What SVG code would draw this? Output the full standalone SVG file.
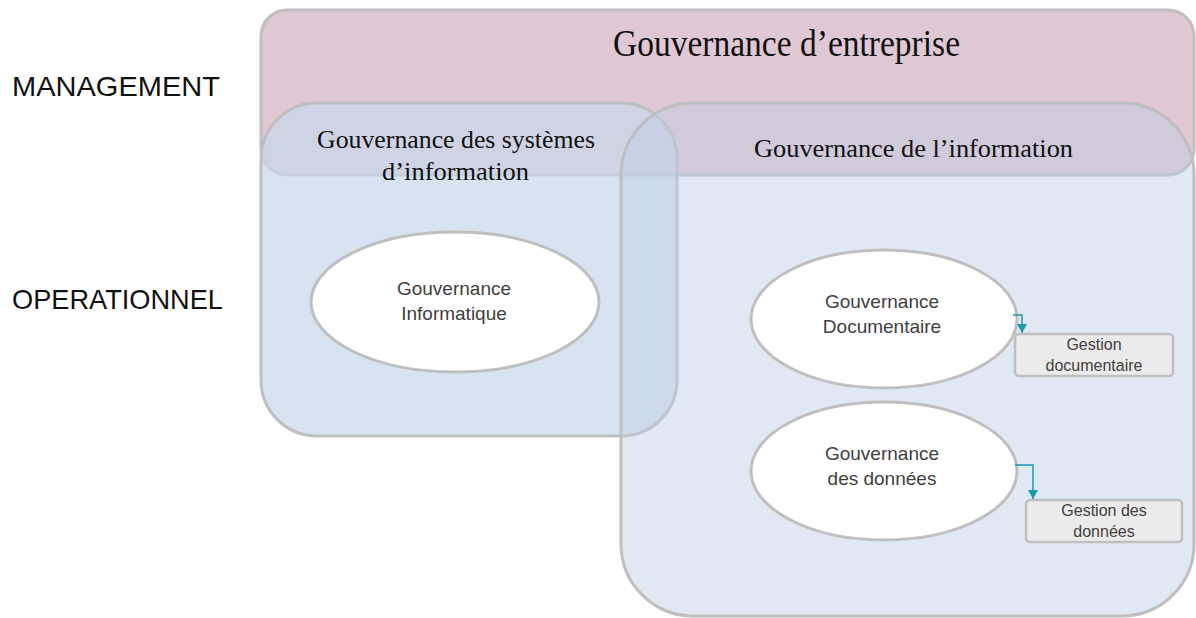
<svg xmlns="http://www.w3.org/2000/svg" width="1196" height="618" viewBox="0 0 1196 618">
<style>
.shape{stroke:#bfbfbf;stroke-width:3}
.serif{font-family:"Liberation Serif","Times New Roman",serif;fill:#111}
.sans{font-family:"Liberation Sans",Arial,sans-serif}
.lane{font-size:28px;fill:#111}
.ell{fill:#fff;stroke:#bfbfbf;stroke-width:3}
.etxt{font-size:19px;fill:#404040;text-anchor:middle}
.box{fill:#ebebeb;stroke:#bfbfbf;stroke-width:2.5}
.btxt{font-size:16px;fill:#404040;text-anchor:middle}
.conn{fill:none;stroke:#1a9bab;stroke-width:1.5}
</style>
<defs>
<marker id="arr" markerWidth="9" markerHeight="10" refX="9" refY="5" orient="auto" markerUnits="userSpaceOnUse" viewBox="0 0 9 10">
<path d="M0,0 L9,5 L0,10 Z" fill="#1a9bab"/>
</marker>
</defs>
<g id="lanes">
<text class="sans lane" x="12" y="96" textLength="208" lengthAdjust="spacingAndGlyphs">MANAGEMENT</text>
<text class="sans lane" x="12" y="309" textLength="211" lengthAdjust="spacingAndGlyphs">OPERATIONNEL</text>
</g>
<g id="gouvernance-entreprise">
<rect class="shape" x="261" y="10" width="933" height="165" rx="26" fill="#dfc8d3"/>
<text class="serif" x="613" y="56" font-size="37" textLength="347" lengthAdjust="spacingAndGlyphs">Gouvernance d’entreprise</text>
</g>
<g id="gouvernance-si">
<rect class="shape" x="261" y="103" width="416" height="333" rx="56" fill="#c9d8ec" fill-opacity="0.72"/>
</g>
<g id="gouvernance-information">
<rect class="shape" x="621" y="103" width="573" height="513" rx="72" fill="#bfcce5" fill-opacity="0.45"/>
<text class="serif" x="754" y="157" font-size="26" textLength="319" lengthAdjust="spacingAndGlyphs">Gouvernance de l’information</text>
</g>
<g id="gouvernance-si-label">
<text class="serif" x="317" y="148" font-size="26" textLength="278" lengthAdjust="spacingAndGlyphs">Gouvernance des systèmes</text>
<text class="serif" x="382" y="180" font-size="26" textLength="147" lengthAdjust="spacingAndGlyphs">d’information</text>
</g>
<g id="gouvernance-informatique">
<ellipse class="ell" cx="455" cy="302" rx="144" ry="70"/>
<text class="sans etxt" x="454" y="295">Gouvernance</text>
<text class="sans etxt" x="454" y="320">Informatique</text>
</g>
<g id="gouvernance-documentaire">
<ellipse class="ell" cx="884" cy="319" rx="133" ry="69"/>
<text class="sans etxt" x="882" y="308">Gouvernance</text>
<text class="sans etxt" x="882" y="333">Documentaire</text>
</g>
<g id="gouvernance-donnees">
<ellipse class="ell" cx="884" cy="471" rx="133" ry="69"/>
<text class="sans etxt" x="882" y="460">Gouvernance</text>
<text class="sans etxt" x="882" y="485">des données</text>
</g>
<g id="gestion-documentaire">
<rect class="box" x="1015" y="334" width="158" height="42" rx="4"/>
<text class="sans btxt" x="1094" y="350">Gestion</text>
<text class="sans btxt" x="1094" y="371">documentaire</text>
</g>
<g id="gestion-donnees">
<rect class="box" x="1026" y="500" width="156" height="42" rx="4"/>
<text class="sans btxt" x="1104" y="516">Gestion des</text>
<text class="sans btxt" x="1104" y="537">données</text>
</g>
<g id="connectors">
<path class="conn" d="M1013,315 H1022 V333" marker-end="url(#arr)"/>
<path class="conn" d="M1015,465 H1033 V499" marker-end="url(#arr)"/>
</g>
</svg>
